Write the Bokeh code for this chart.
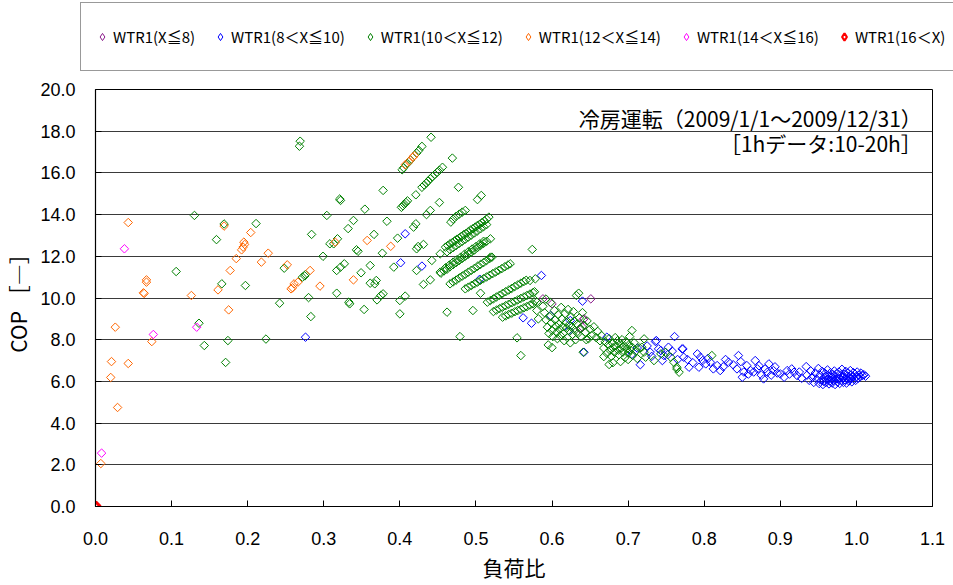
from bokeh.plotting import figure
from bokeh.layouts import column
from bokeh.models import ColumnDataSource, Legend, LegendItem, FixedTicker, NumeralTickFormatter, Label
from bokeh.embed import file_html
from bokeh.resources import INLINE

# ---------------- data ----------------
series_labels = ["WTR1(X≦8)", "WTR1(8＜X≦10)", "WTR1(10＜X≦12)",
                 "WTR1(12＜X≦14)", "WTR1(14＜X≦16)", "WTR1(16＜X)"]
series_colors = ["#8B1A8B", "#0000FF", "#008000", "#FF6600", "#FF00FF", "#FF0000"]

x_ticks = [0.0, 0.1, 0.2, 0.3, 0.4, 0.5, 0.6, 0.7, 0.8, 0.9, 1.0, 1.1]
y_ticks = [0, 2, 4, 6, 8, 10, 12, 14, 16, 18, 20]

purple_pts = [(0.588, 9.96), (0.651, 9.96), (0.600, 9.72), (0.642, 9.00), (0.640, 8.60),
              (0.641, 8.97), (0.637, 8.52)]

blue_sparse = [(0.276, 8.12), (0.407, 13.08), (0.401, 11.69), (0.429, 11.53), (0.505, 10.90),
               (0.586, 11.08), (0.562, 9.05), (0.573, 8.79), (0.598, 9.16), (0.640, 9.85),
               (0.624, 8.92), (0.622, 8.44), (0.642, 7.40), (0.672, 8.12), (0.716, 6.80),
               (0.736, 7.91), (0.743, 7.48), (0.747, 7.24), (0.761, 8.15), (0.737, 7.96),
               (0.772, 7.56)]
blue_tail = [(0.729, 7.40), (0.740, 7.56), (0.753, 7.64), (0.771, 7.56), (0.773, 7.16),
             (0.780, 6.68), (0.791, 7.32), (0.795, 7.16), (0.802, 6.84), (0.793, 6.68),
             (0.808, 6.92), (0.817, 6.76), (0.821, 6.52), (0.832, 6.92), (0.845, 7.24),
             (0.843, 6.60), (0.850, 6.20), (0.856, 6.76), (0.861, 6.52), (0.867, 7.00),
             (0.870, 6.60), (0.885, 6.84), (0.883, 6.44), (0.891, 6.52), (0.900, 6.36),
             (0.909, 6.52), (0.918, 6.44), (0.922, 6.28), (0.878, 6.12), (0.934, 6.71),
             (0.705, 7.30), (0.712, 7.60), (0.725, 7.70), (0.731, 7.20), (0.745, 7.00),
             (0.752, 7.28), (0.758, 7.45), (0.765, 7.05), (0.778, 7.05), (0.785, 6.90),
             (0.798, 7.00), (0.805, 7.10), (0.812, 6.60), (0.825, 6.70), (0.828, 7.05),
             (0.838, 6.80), (0.848, 6.95), (0.852, 6.45), (0.858, 6.35), (0.865, 6.45),
             (0.872, 6.75), (0.875, 6.30), (0.880, 6.60), (0.888, 6.30), (0.893, 6.70),
             (0.896, 6.40), (0.905, 6.20), (0.912, 6.35), (0.915, 6.60), (0.925, 6.45),
             (0.928, 6.15)]
blue_blob = [(0.935, 6.30), (0.938, 6.05), (0.940, 6.50), (0.942, 6.20), (0.944, 5.95),
             (0.946, 6.40), (0.948, 6.10), (0.950, 6.62), (0.951, 5.90), (0.952, 6.30),
             (0.954, 6.05), (0.955, 6.48), (0.956, 5.85), (0.958, 6.20), (0.959, 6.38),
             (0.960, 5.95), (0.961, 6.10), (0.962, 6.55), (0.963, 6.28), (0.964, 5.88),
             (0.965, 6.02), (0.966, 6.42), (0.967, 6.15), (0.968, 5.92), (0.969, 6.32),
             (0.970, 6.05), (0.971, 6.50), (0.972, 5.85), (0.973, 6.22), (0.974, 6.38),
             (0.975, 5.98), (0.976, 6.12), (0.977, 6.45), (0.978, 5.90), (0.979, 6.28),
             (0.980, 6.05), (0.981, 6.58), (0.982, 6.18), (0.983, 5.95), (0.984, 6.35),
             (0.985, 6.08), (0.986, 6.48), (0.987, 5.92), (0.988, 6.25), (0.989, 6.40),
             (0.990, 6.02), (0.991, 6.15), (0.992, 6.52), (0.993, 6.30), (0.994, 5.98),
             (0.995, 6.20), (0.996, 6.42), (0.997, 6.10), (0.998, 6.35), (0.999, 6.05),
             (1.000, 6.25), (1.001, 6.45), (1.002, 6.15), (1.003, 6.30), (1.005, 6.22),
             (1.006, 6.40), (1.008, 6.28), (1.010, 6.32), (1.012, 6.25), (0.957, 6.00),
             (0.963, 6.10), (0.968, 6.20), (0.973, 6.10), (0.978, 6.15), (0.983, 6.20),
             (0.988, 6.12), (0.993, 6.15), (0.960, 6.25)]

green_sparse = [(0.130, 13.96), (0.169, 13.55), (0.211, 13.57), (0.304, 13.96), (0.284, 13.05),
                (0.159, 12.80), (0.299, 12.00), (0.308, 12.60), (0.106, 11.27), (0.166, 10.68),
                (0.197, 10.60), (0.248, 11.43), (0.272, 11.00), (0.275, 11.06), (0.276, 11.13),
                (0.280, 10.02), (0.242, 9.75), (0.283, 9.11), (0.136, 8.79), (0.143, 7.72),
                (0.174, 7.96), (0.224, 8.03), (0.171, 6.91), (0.441, 17.71), (0.269, 17.52),
                (0.268, 17.28), (0.469, 16.71), (0.378, 15.16), (0.477, 15.31), (0.502, 14.72),
                (0.507, 14.92), (0.321, 14.75), (0.322, 14.68), (0.421, 14.95), (0.452, 14.58),
                (0.354, 14.26), (0.435, 14.00), (0.440, 14.20), (0.383, 13.68), (0.339, 13.72),
                (0.332, 13.33), (0.418, 13.40), (0.421, 13.56), (0.366, 13.05), (0.397, 12.87),
                (0.574, 12.33), (0.318, 12.84), (0.313, 12.60), (0.343, 12.31), (0.345, 12.24),
                (0.377, 12.15), (0.422, 12.36), (0.424, 12.47), (0.431, 12.57), (0.442, 11.80),
                (0.392, 11.48), (0.361, 11.56), (0.327, 11.64), (0.322, 11.48), (0.317, 11.32),
                (0.422, 11.32), (0.519, 11.96), (0.440, 10.87), (0.431, 10.65), (0.349, 11.21),
                (0.361, 10.71), (0.369, 10.84), (0.367, 10.68), (0.317, 10.23), (0.333, 9.80),
                (0.334, 9.72), (0.353, 9.45), (0.370, 9.91), (0.375, 10.12), (0.378, 10.20),
                (0.400, 9.88), (0.407, 10.09), (0.400, 9.24), (0.506, 10.23), (0.462, 9.32),
                (0.496, 9.40), (0.571, 10.84), (0.578, 10.92), (0.479, 8.15), (0.554, 8.09),
                (0.559, 7.24), (0.453, 12.12), (0.453, 11.24), (0.578, 9.88), (0.580, 9.40),
                (0.582, 9.00)]
green_top = [(0.403, 16.15), (0.405, 16.25), (0.410, 16.45), (0.414, 16.62), (0.422, 16.95),
             (0.425, 17.08), (0.429, 17.27)]
green_row0 = [(0.429, 15.31), (0.432, 15.42), (0.435, 15.52), (0.437, 15.60), (0.440, 15.72),
              (0.443, 15.82), (0.446, 15.93), (0.449, 16.03), (0.452, 16.13), (0.456, 16.27)]
green_knot = [(0.402, 14.35), (0.404, 14.42), (0.406, 14.50), (0.408, 14.58), (0.410, 14.66)]
green_short = [(0.467, 13.64), (0.470, 13.78), (0.474, 13.92), (0.478, 14.02), (0.482, 14.12),
               (0.486, 14.20)]
green_band1 = [(0.460, 12.44), (0.463, 12.52), (0.466, 12.60), (0.469, 12.66), (0.472, 12.74),
               (0.475, 12.82), (0.478, 12.88), (0.481, 12.96), (0.484, 13.04), (0.487, 13.10),
               (0.490, 13.18), (0.493, 13.26), (0.496, 13.32), (0.499, 13.40), (0.502, 13.48),
               (0.505, 13.54), (0.508, 13.62), (0.511, 13.70), (0.514, 13.78), (0.517, 13.88),
               (0.462, 12.22), (0.466, 12.32), (0.470, 12.42), (0.474, 12.52), (0.478, 12.62),
               (0.482, 12.72), (0.486, 12.82), (0.490, 12.92), (0.494, 13.02), (0.498, 13.12),
               (0.502, 13.22), (0.506, 13.32), (0.510, 13.42), (0.514, 13.52)]
green_band2 = [(0.454, 11.19), (0.458, 11.30), (0.462, 11.38), (0.466, 11.50), (0.470, 11.60),
               (0.474, 11.70), (0.478, 11.80), (0.482, 11.90), (0.486, 12.00), (0.490, 12.10),
               (0.494, 12.20), (0.498, 12.30), (0.502, 12.42), (0.506, 12.52), (0.510, 12.62),
               (0.514, 12.72), (0.519, 12.84), (0.460, 11.45), (0.465, 11.58), (0.470, 11.72),
               (0.475, 11.84), (0.480, 11.96), (0.485, 12.10), (0.490, 12.22), (0.495, 12.35),
               (0.500, 12.47), (0.505, 12.60), (0.510, 12.72)]
green_band3 = [(0.466, 10.68), (0.470, 10.77), (0.474, 10.86), (0.478, 10.96), (0.482, 11.05),
               (0.486, 11.14), (0.490, 11.24), (0.494, 11.33), (0.498, 11.42), (0.502, 11.52),
               (0.506, 11.61), (0.510, 11.70), (0.514, 11.80), (0.518, 11.89), (0.521, 11.96)]
green_band4 = [(0.486, 10.44), (0.490, 10.52), (0.494, 10.60), (0.498, 10.68), (0.502, 10.76),
               (0.506, 10.85), (0.510, 10.93), (0.514, 11.01), (0.518, 11.09), (0.522, 11.17),
               (0.526, 11.25), (0.530, 11.33), (0.534, 11.41), (0.538, 11.50), (0.542, 11.58),
               (0.545, 11.64)]
green_band5 = [(0.515, 9.80), (0.519, 9.88), (0.523, 9.96), (0.527, 10.05), (0.531, 10.13),
               (0.535, 10.22), (0.539, 10.30), (0.543, 10.38), (0.547, 10.46), (0.551, 10.55),
               (0.555, 10.63), (0.559, 10.71), (0.563, 10.79), (0.566, 10.85)]
green_band6 = [(0.523, 9.35), (0.527, 9.42), (0.531, 9.49), (0.535, 9.56), (0.539, 9.63),
               (0.543, 9.70), (0.547, 9.77), (0.551, 9.84), (0.555, 9.91), (0.559, 9.98),
               (0.563, 10.05), (0.567, 10.12), (0.571, 10.19), (0.575, 10.26), (0.577, 10.30)]
green_band7 = [(0.535, 9.08), (0.539, 9.14), (0.543, 9.21), (0.547, 9.27), (0.551, 9.34),
               (0.555, 9.40), (0.559, 9.46), (0.563, 9.53), (0.567, 9.59), (0.571, 9.66),
               (0.575, 9.72), (0.580, 9.80)]
green_cluster1 = [(0.590, 9.30), (0.592, 8.95), (0.594, 8.60), (0.596, 8.30), (0.597, 9.10),
                  (0.599, 8.80), (0.600, 8.45), (0.601, 8.15), (0.603, 9.40), (0.604, 8.95),
                  (0.605, 8.65), (0.606, 8.35), (0.607, 8.05), (0.608, 9.20), (0.609, 8.75),
                  (0.610, 8.50), (0.611, 8.20), (0.612, 9.55), (0.613, 9.00), (0.614, 8.62),
                  (0.615, 8.30), (0.616, 7.95), (0.617, 9.25), (0.618, 8.85), (0.619, 8.55),
                  (0.620, 8.10), (0.621, 9.45), (0.622, 8.70), (0.623, 8.40), (0.624, 7.85),
                  (0.625, 9.10), (0.626, 8.60), (0.627, 8.25), (0.628, 9.35), (0.629, 8.90),
                  (0.630, 8.45), (0.631, 8.00), (0.632, 10.12), (0.633, 8.75), (0.634, 8.30),
                  (0.635, 10.23), (0.636, 9.05), (0.637, 8.55), (0.638, 8.15), (0.640, 9.30),
                  (0.641, 7.40), (0.642, 8.70), (0.644, 8.35), (0.646, 8.90), (0.648, 8.05),
                  (0.650, 8.50), (0.652, 8.20), (0.655, 8.62), (0.658, 8.10), (0.660, 8.40),
                  (0.663, 7.95), (0.595, 7.75), (0.600, 7.62), (0.588, 9.60), (0.592, 9.95),
                  (0.598, 9.78), (0.645, 8.00), (0.665, 8.20)]
green_cluster2 = [(0.668, 7.60), (0.670, 7.90), (0.672, 7.35), (0.674, 7.75), (0.675, 8.05),
                  (0.676, 7.50), (0.678, 7.20), (0.679, 7.85), (0.680, 7.62), (0.682, 7.40),
                  (0.683, 8.10), (0.684, 7.70), (0.686, 7.95), (0.687, 7.50), (0.688, 7.28),
                  (0.690, 7.80), (0.691, 7.60), (0.692, 8.00), (0.693, 7.40), (0.695, 7.70),
                  (0.696, 7.15), (0.697, 7.90), (0.698, 7.55), (0.700, 7.35), (0.701, 7.75),
                  (0.702, 8.15), (0.703, 7.50), (0.705, 7.65), (0.706, 7.25), (0.708, 7.85),
                  (0.710, 7.45), (0.705, 8.44), (0.721, 8.04), (0.712, 7.10), (0.715, 7.60),
                  (0.690, 6.95), (0.680, 6.90), (0.700, 7.05), (0.668, 7.19), (0.675, 6.81),
                  (0.718, 7.64), (0.721, 7.40), (0.723, 7.16), (0.734, 7.00), (0.743, 7.32),
                  (0.749, 7.40), (0.756, 7.16), (0.760, 6.92), (0.764, 6.68), (0.767, 6.44),
                  (0.764, 6.60), (0.810, 7.24)]

orange_pts = [(0.043, 13.62), (0.169, 13.45), (0.204, 13.14), (0.195, 12.68), (0.196, 12.57),
              (0.194, 12.44), (0.192, 12.31), (0.185, 11.89), (0.227, 12.15), (0.218, 11.72),
              (0.177, 11.32), (0.067, 10.87), (0.067, 10.76), (0.063, 10.25), (0.064, 10.22),
              (0.126, 10.12), (0.161, 10.39), (0.252, 11.59), (0.282, 11.32), (0.261, 10.68),
              (0.257, 10.44), (0.259, 10.49), (0.266, 10.76), (0.295, 10.57), (0.026, 8.60),
              (0.175, 9.43), (0.074, 7.91), (0.021, 6.95), (0.043, 6.86), (0.020, 6.19),
              (0.029, 4.75), (0.007, 2.06), (0.357, 12.76), (0.315, 12.68), (0.388, 12.48),
              (0.339, 10.87), (0.407, 16.39), (0.412, 16.55), (0.417, 16.75), (0.419, 16.83)]

magenta_pts = [(0.038, 12.36), (0.133, 8.60), (0.076, 8.25), (0.008, 2.56)]

red_pts = [(0.0, 0.0), (0.001, 0.02)]

series_points = [
    purple_pts,
    blue_sparse + blue_tail + blue_blob,
    green_sparse + green_top + green_row0 + green_knot + green_short + green_band1
    + green_band2 + green_band3 + green_band4 + green_band5 + green_band6 + green_band7
    + green_cluster1 + green_cluster2,
    orange_pts,
    magenta_pts,
    red_pts,
]

# ---------------- main figure ----------------
p = figure(width=953, height=507, x_range=(0, 1.1), y_range=(0, 20),
           output_backend="svg", toolbar_location=None,
           min_border_left=95, min_border_right=21, min_border_top=11, min_border_bottom=79,
           background_fill_color="white", border_fill_color="white")
p.frame_align = False

p.outline_line_color = "black"
p.outline_line_width = 1
p.xgrid.visible = False
p.ygrid.grid_line_color = "#3a3a3a"
p.ygrid.grid_line_width = 1
p.ygrid.ticker = FixedTicker(ticks=y_ticks)

p.xaxis.ticker = FixedTicker(ticks=x_ticks)
p.yaxis.ticker = FixedTicker(ticks=y_ticks)
p.xaxis.formatter = NumeralTickFormatter(format="0.0")
p.yaxis.formatter = NumeralTickFormatter(format="0.0")

for ax in (p.xaxis[0], p.yaxis[0]):
    ax.axis_line_color = "black"
    ax.axis_line_width = 1.2
    ax.major_tick_line_color = "black"
    ax.major_tick_in = 6
    ax.major_tick_out = 0
    ax.minor_tick_line_color = None
    ax.major_label_text_font = "Liberation Sans"
    ax.major_label_text_font_size = "18px"
    ax.major_label_text_color = "black"
    ax.axis_label_text_font = "Noto Sans CJK JP"
    ax.axis_label_text_font_size = "21px"
    ax.axis_label_text_font_style = "normal"
    ax.axis_label_text_color = "black"

p.xaxis.axis_label = "負荷比"
p.yaxis.axis_label = "COP ［―］"
p.xaxis.major_label_standoff = 25
p.xaxis.axis_label_standoff = 4
p.yaxis.major_label_standoff = 20
p.yaxis.axis_label_standoff = 4

sources = []
for lab, col, pts in zip(series_labels, series_colors, series_points):
    src = ColumnDataSource(data=dict(x=[q[0] for q in pts], y=[q[1] for q in pts]))
    sources.append(src)
    lw = 2.2 if col == "#FF0000" else 1
    p.scatter(x="x", y="y", source=src, marker="square", size=6, angle=0.785398,
              fill_color=None, line_color=col, line_width=lw)

p.add_layout(Label(x=1.086, y=18.62, text="冷房運転（2009/1/1～2009/12/31）", text_align="right",
                   text_baseline="middle", text_font="Noto Sans CJK JP", text_font_size="21px",
                   text_color="black"))
p.add_layout(Label(x=1.086, y=17.42, text="［1hデータ:10-20h］", text_align="right",
                   text_baseline="middle", text_font="Noto Sans CJK JP", text_font_size="21px",
                   text_color="black"))

# ---------------- legend strip (same series sources, ranges show no points) ----------------
pl = figure(width=953, height=78, x_range=(2, 3), y_range=(30, 31),
            x_axis_type=None, y_axis_type=None, output_backend="svg", toolbar_location=None,
            min_border=0, background_fill_color="white", border_fill_color="white")
pl.frame_align = False
pl.outline_line_color = None
pl.grid.visible = False

items = []
for lab, col, src in zip(series_labels, series_colors, sources):
    lw = 2.2 if col == "#FF0000" else 1
    key = pl.scatter(x="x", y="y", source=src, marker="diamond", size=8,
                     fill_color=None, line_color=col, line_width=lw)
    items.append(LegendItem(label=lab, renderers=[key]))

legend = Legend(items=items, orientation="horizontal", location=(80, 7),
                glyph_width=18, glyph_height=43, padding=12, spacing=16, label_standoff=2,
                label_text_font="Noto Sans CJK JP", label_text_font_size="15px",
                label_text_color="black", border_line_color="#333333", border_line_width=1.5,
                background_fill_color="white", background_fill_alpha=1.0, margin=0)
pl.add_layout(legend, "center")

open("out.html", "w").write(file_html(column(pl, p, spacing=0), INLINE))
